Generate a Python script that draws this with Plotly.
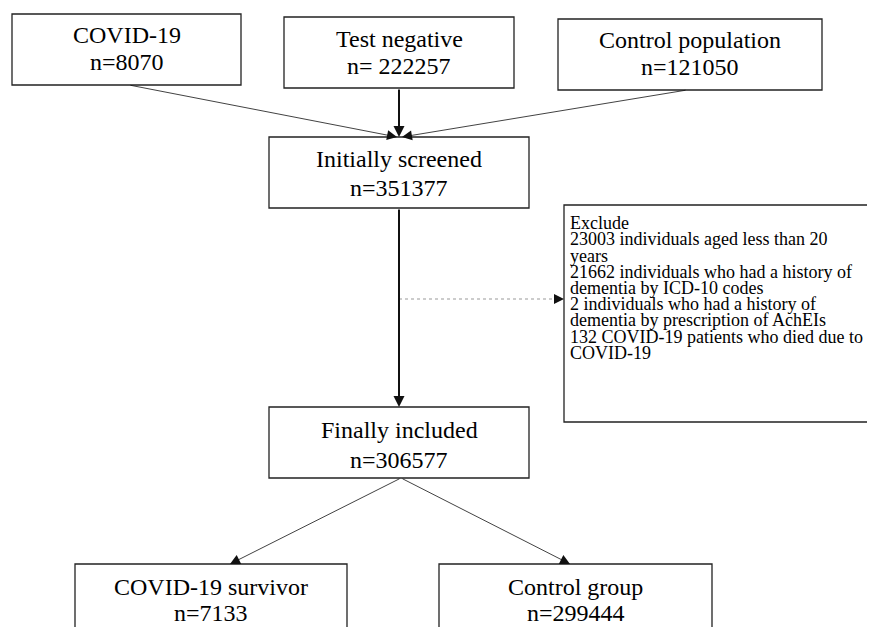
import plotly.graph_objects as go

# ---- data ----
box_titles = ["COVID-19", "Test negative", "Control population", "Initially screened",
              "Finally included", "COVID-19 survivor", "Control group"]
box_counts = ["n=8070", "n= 222257", "n=121050", "n=351377",
              "n=306577", "n=7133", "n=299444"]
exclude_title = "Exclude"
exclude_lines = ["23003 individuals aged less than 20", "years",
                 "21662 individuals who had a history of", "dementia by ICD-10 codes",
                 "2 individuals who had a history of", "dementia by prescription of AchEIs",
                 "132 COVID-19 patients who died due to", "COVID-19"]

# ---- layout geometry (page pixels) ----
box_rects = [(12, 14, 241, 85), (284, 17, 514, 88), (558, 19, 822, 90),
             (269, 137, 529, 208), (269, 407, 529, 478),
             (75, 564, 347, 660), (439, 564, 712, 660)]
title_dy = [21, 22, 21, 22, 23, 23, 23]
count_dy = [48, 49, 48, 51, 53, 49, 49]
exclude_rect = (564, 205, 890, 422)
exclude_y = [223, 239, 256, 272, 288, 304, 320, 337, 353]

FONT = "Liberation Serif"
fig = go.Figure()
shapes = []
annotations = []

for (x0, y0, x1, y1), t, c, d1, d2 in zip(box_rects, box_titles, box_counts, title_dy, count_dy):
    shapes.append(dict(type="rect", x0=x0, y0=y0, x1=x1, y1=y1, xref="x", yref="y",
                       line=dict(color="#222", width=1.3), fillcolor="white", layer="below"))
    xc = (x0 + x1) / 2
    annotations.append(dict(x=xc, y=y0 + d1, text=t, showarrow=False, xref="x", yref="y",
                            font=dict(family=FONT, size=24, color="black")))
    annotations.append(dict(x=xc, y=y0 + d2, text=c, showarrow=False, xref="x", yref="y",
                            font=dict(family=FONT, size=24, color="black")))

x0, y0, x1, y1 = exclude_rect
shapes.append(dict(type="rect", x0=x0, y0=y0, x1=x1, y1=y1, xref="x", yref="y",
                   line=dict(color="#222", width=1.3), fillcolor="white", layer="below"))
for txt, yy in zip([exclude_title] + exclude_lines, exclude_y):
    annotations.append(dict(x=x0 + 4, y=yy, text=txt, showarrow=False, xref="x", yref="y",
                            xanchor="left", font=dict(family=FONT, size=18, color="black")))

def arrow(tail, head, width=0.8, size=2.5, color="#111"):
    annotations.append(dict(x=head[0], y=head[1], ax=tail[0], ay=tail[1], xref="x", yref="y",
                            axref="x", ayref="y", text="", showarrow=True, arrowhead=2,
                            arrowsize=size, arrowwidth=width, arrowcolor=color, standoff=0,
                            startstandoff=0))

arrow((129, 85), (397, 137))
arrow((399, 88), (399, 137), width=2, size=1.1)
arrow((687, 90), (402, 137))
arrow((399, 208), (399, 407), width=2, size=1.1)
arrow((401, 478), (230, 564))
arrow((401, 478), (570, 564))
# dashed exclusion arrow
shapes.append(dict(type="line", x0=399, y0=299, x1=558, y1=299, xref="x", yref="y",
                   line=dict(color="#999", width=1, dash="dot")))
arrow((555, 299), (564, 299), width=1, size=2)

# page has an 8px body margin: size the figure to the remaining area and offset ranges
fig.update_layout(
    width=867, height=619, margin=dict(l=0, r=0, t=0, b=0),
    paper_bgcolor="white", plot_bgcolor="white",
    xaxis=dict(range=[8, 875], visible=False, fixedrange=True),
    yaxis=dict(range=[627, 8], visible=False, fixedrange=True),
    shapes=shapes, annotations=annotations, showlegend=False,
)
fig.write_html("out.html")
